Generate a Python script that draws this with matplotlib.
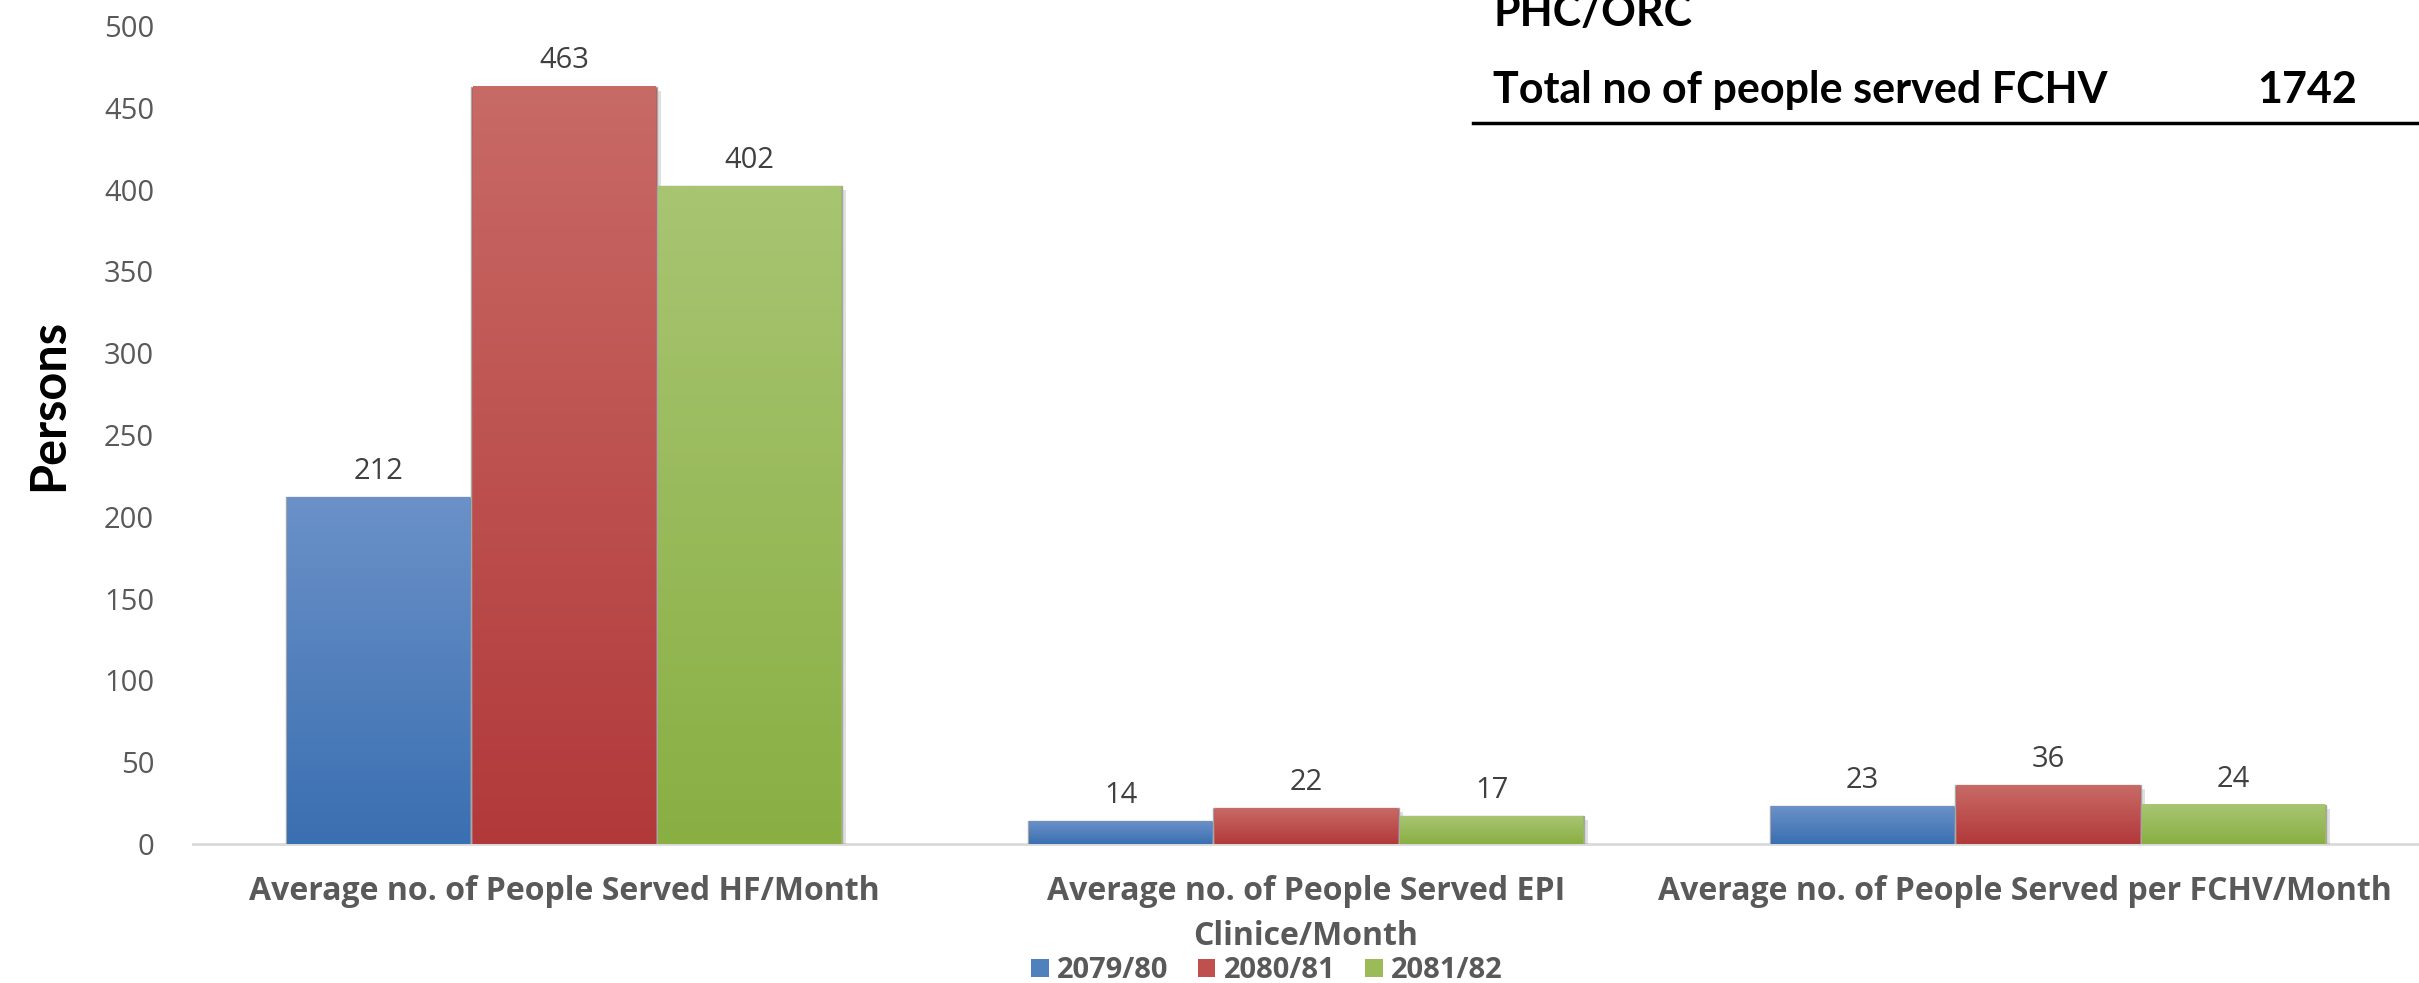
import numpy as np
import matplotlib
matplotlib.use("Agg")
import matplotlib.pyplot as plt
from matplotlib.patches import Patch
from matplotlib.colors import to_rgb
from matplotlib import patheffects as pe
from matplotlib.transforms import ScaledTranslation

categories = ["Average no. of People Served HF/Month",
              "Average no. of People Served EPI\nClinice/Month",
              "Average no. of People Served per FCHV/Month"]
series_names = ["2079/80", "2080/81", "2081/82"]
values_2079 = [212, 14, 23]
values_2080 = [463, 22, 36]
values_2081 = [402, 17, 24]
yticks = [0, 50, 100, 150, 200, 250, 300, 350, 400, 450, 500]
top_label = "Total no of people served FCHV"
top_value = "1742"
top_cut_label = "PHC/ORC"

series = [values_2079, values_2080, values_2081]
grad_colors = [("#3A6FB1", "#6B91C8"), ("#B2393A", "#C86A66"), ("#89AF43", "#A8C572")]
mid_colors = ["#4F81BD", "#C0504D", "#9BBB59"]

fig = plt.figure(figsize=(24.19, 9.83), dpi=100)
ax = fig.add_axes([193/2419, 1-844/983, 1-193/2419, (844-26)/983])

x = np.arange(len(categories))
w = 0.25
gray = "#595959"
for i, vals in enumerate(series):
    pos = x + (i - 1) * w
    bars = ax.bar(pos, vals, width=w, color=mid_colors[i], edgecolor="#A6A6A6",
                  linewidth=1.0, zorder=2,
                  path_effects=[pe.SimplePatchShadow(offset=(3, -3), alpha=0.25, shadow_rgbFace="#808080"), pe.Normal()])
    c0 = np.array(to_rgb(grad_colors[i][0]))
    c1 = np.array(to_rgb(grad_colors[i][1]))
    t = np.linspace(0, 1, 256)[:, None, None]
    img = c0 * (1 - t) + c1 * t
    for b, v in zip(bars, vals):
        bx = b.get_x()
        ax.imshow(img, extent=[bx + 0.002, bx + w - 0.002, 0, v], origin="lower",
                  aspect="auto", zorder=3, interpolation="bilinear")
        ax.annotate(f"{v}", (b.get_x() + w / 2, v), xytext=(0, 13), textcoords="offset points",
                    ha="center", va="baseline", fontsize=21, color="#404040", family="Open Sans", zorder=5)

ax.set_xlim(-0.5, 2.5)
ax.set_ylim(0, 500)
ax.set_yticks(yticks)
ax.set_yticklabels([str(v) for v in yticks], fontsize=21, color=gray, family="Open Sans")
ax.set_xticks(x)
ax.set_xticklabels(categories, fontsize=23, color=gray, family="Open Sans",
                   fontweight="bold", linespacing=1.5)
ax.tick_params(axis="both", length=0)
ax.tick_params(axis="y", pad=28)
ax.tick_params(axis="x", pad=22)
for s in ["top", "right", "left"]:
    ax.spines[s].set_visible(False)
ax.spines["bottom"].set_color("#D9D9D9")
ax.spines["bottom"].set_linewidth(2)
ax.spines["bottom"].set_zorder(1)

lbl = ax.get_xticklabels()[2]
lbl.set_transform(lbl.get_transform() + ScaledTranslation(-23/100, 0, fig.dpi_scale_trans))

fig.text(49/2419, 1-405/983, "Persons", rotation=90, ha="center", va="center",
         fontsize=35, fontweight="bold", family="Lato", color="black")

# top-right table fragment
fig.text(1493/2419, 1-26/983, top_cut_label, ha="left", va="baseline",
         fontsize=31, fontweight="bold", family="Lato", color="black")
fig.text(1493/2419, 1-103/983, top_label, ha="left", va="baseline",
         fontsize=31, fontweight="bold", family="Lato", color="black")
fig.text(2357/2419, 1-103/983, top_value, ha="right", va="baseline",
         fontsize=31, fontweight="bold", family="Lato", color="black")
fig.add_artist(plt.Line2D([1473/2419, 1.0], [1-123/983, 1-123/983], color="black",
                          linewidth=2.5, transform=fig.transFigure))

handles = [Patch(facecolor=c, edgecolor="none") for c in mid_colors]
leg = fig.legend(handles, series_names, loc="center", bbox_to_anchor=(1267/2419, 1-971/983),
                 ncol=3, frameon=False, handlelength=0.6, handleheight=0.6,
                 handletextpad=0.3, columnspacing=1.0,
                 prop={"family": "Open Sans", "weight": "bold", "size": 21})
for t in leg.get_texts():
    t.set_color(gray)

fig.savefig("out.png", dpi=100)
